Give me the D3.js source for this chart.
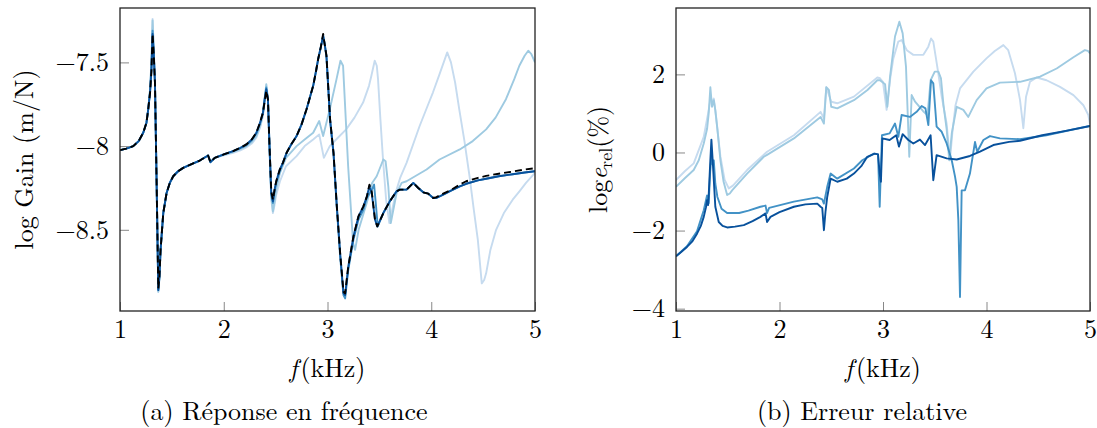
<!DOCTYPE html>
<html><head><meta charset="utf-8">
<script src="https://cdn.jsdelivr.net/npm/d3@7"></script>
<style>
body{margin:0;background:#fff}
</style>
</head><body><svg id="c" width="1097" height="428"></svg>
<script>
// ---------- data ----------
const freqTicks = [1, 2, 3, 4, 5];
const gainTicks = [-8.5, -8, -7.5];
const errTicks = [-4, -2, 0, 2];
const seriesColors = ["#c6dbef", "#9ecae1", "#4292c6", "#08519c"];

// reference response (black dashed)
const refGain = [[1.0,-8.024],[1.06,-8.015],[1.128,-8.0],[1.18,-7.97],[1.224,-7.92],[1.255,-7.86],[1.272,-7.78],[1.29,-7.68],[1.303,-7.55],[1.314,-7.33],[1.325,-7.45],[1.337,-7.62],[1.353,-8.22],[1.369,-8.85],[1.38,-8.78],[1.391,-8.62],[1.417,-8.40],[1.449,-8.28],[1.48,-8.22],[1.513,-8.18],[1.56,-8.15],[1.609,-8.13],[1.69,-8.107],[1.769,-8.086],[1.849,-8.056],[1.872,-8.096],[1.913,-8.07],[2.0,-8.05],[2.09,-8.03],[2.16,-8.01],[2.218,-7.99],[2.27,-7.96],[2.314,-7.92],[2.35,-7.86],[2.378,-7.80],[2.395,-7.73],[2.41,-7.67],[2.426,-7.72],[2.44,-7.98],[2.458,-8.27],[2.474,-8.32],[2.49,-8.26],[2.506,-8.21],[2.54,-8.14],[2.57,-8.10],[2.606,-8.04],[2.65,-7.99],[2.702,-7.94],[2.75,-7.87],[2.798,-7.78],[2.83,-7.71],[2.862,-7.64],[2.89,-7.55],[2.91,-7.48],[2.935,-7.41],[2.958,-7.33],[2.975,-7.40],[2.99,-7.46],[3.025,-7.84],[3.058,-8.04],[3.09,-8.36],[3.122,-8.64],[3.154,-8.87],[3.17,-8.88],[3.2,-8.72],[3.25,-8.54],[3.298,-8.42],[3.346,-8.36],[3.38,-8.30],[3.404,-8.23],[3.426,-8.27],[3.458,-8.44],[3.48,-8.48],[3.538,-8.40],[3.60,-8.33],[3.666,-8.27],[3.698,-8.26],[3.762,-8.26],[3.827,-8.22],[3.875,-8.25],[3.923,-8.276],[3.971,-8.284],[4.019,-8.31],[4.05,-8.305],[4.115,-8.284],[4.195,-8.26],[4.275,-8.23],[4.337,-8.21],[4.45,-8.19],[4.529,-8.178],[4.65,-8.165],[4.785,-8.152],[4.9,-8.14],[5.0,-8.132]];

// model 4 (darkest)
const gain4 = [[1.0,-8.024],[1.06,-8.015],[1.128,-8.0],[1.18,-7.97],[1.224,-7.92],[1.255,-7.86],[1.272,-7.78],[1.29,-7.68],[1.303,-7.55],[1.314,-7.33],[1.325,-7.45],[1.337,-7.62],[1.353,-8.22],[1.369,-8.86],[1.38,-8.78],[1.391,-8.62],[1.417,-8.40],[1.449,-8.28],[1.48,-8.22],[1.513,-8.18],[1.56,-8.15],[1.609,-8.13],[1.69,-8.107],[1.769,-8.086],[1.849,-8.056],[1.872,-8.096],[1.913,-8.07],[2.0,-8.05],[2.09,-8.03],[2.16,-8.01],[2.218,-7.99],[2.27,-7.96],[2.314,-7.92],[2.35,-7.86],[2.378,-7.80],[2.395,-7.72],[2.41,-7.66],[2.426,-7.72],[2.44,-7.98],[2.458,-8.28],[2.474,-8.33],[2.49,-8.26],[2.506,-8.21],[2.54,-8.14],[2.57,-8.10],[2.606,-8.04],[2.65,-7.99],[2.702,-7.94],[2.75,-7.87],[2.798,-7.78],[2.83,-7.71],[2.862,-7.64],[2.89,-7.55],[2.91,-7.48],[2.935,-7.41],[2.958,-7.34],[2.975,-7.40],[2.99,-7.46],[3.025,-7.84],[3.058,-8.04],[3.09,-8.36],[3.122,-8.64],[3.154,-8.88],[3.17,-8.89],[3.2,-8.72],[3.25,-8.54],[3.298,-8.42],[3.346,-8.36],[3.38,-8.30],[3.404,-8.24],[3.426,-8.28],[3.458,-8.44],[3.48,-8.48],[3.538,-8.40],[3.60,-8.33],[3.666,-8.27],[3.698,-8.26],[3.762,-8.26],[3.827,-8.22],[3.875,-8.25],[3.923,-8.276],[3.971,-8.284],[4.019,-8.31],[4.05,-8.31],[4.115,-8.29],[4.195,-8.265],[4.275,-8.24],[4.337,-8.225],[4.45,-8.205],[4.529,-8.195],[4.65,-8.18],[4.785,-8.168],[4.9,-8.158],[5.0,-8.15]];

// model 3
const gain3 = [[1.0,-8.024],[1.06,-8.015],[1.128,-8.0],[1.18,-7.97],[1.224,-7.92],[1.255,-7.86],[1.272,-7.78],[1.29,-7.67],[1.303,-7.53],[1.314,-7.31],[1.325,-7.44],[1.337,-7.62],[1.353,-8.22],[1.369,-8.86],[1.38,-8.78],[1.391,-8.62],[1.417,-8.40],[1.449,-8.28],[1.48,-8.22],[1.513,-8.18],[1.56,-8.15],[1.609,-8.13],[1.69,-8.107],[1.769,-8.086],[1.849,-8.056],[1.872,-8.096],[1.913,-8.07],[2.0,-8.05],[2.09,-8.03],[2.16,-8.012],[2.218,-7.995],[2.27,-7.965],[2.314,-7.925],[2.35,-7.865],[2.378,-7.80],[2.395,-7.71],[2.41,-7.65],[2.426,-7.72],[2.44,-7.98],[2.458,-8.29],[2.474,-8.34],[2.49,-8.27],[2.506,-8.22],[2.54,-8.15],[2.57,-8.10],[2.606,-8.04],[2.65,-7.99],[2.702,-7.94],[2.75,-7.87],[2.798,-7.78],[2.83,-7.71],[2.862,-7.64],[2.89,-7.55],[2.91,-7.48],[2.935,-7.41],[2.958,-7.34],[2.975,-7.40],[2.99,-7.47],[3.025,-7.85],[3.058,-8.05],[3.09,-8.37],[3.122,-8.66],[3.154,-8.89],[3.17,-8.91],[3.2,-8.74],[3.25,-8.56],[3.298,-8.44],[3.346,-8.38],[3.378,-8.31],[3.42,-8.27],[3.449,-8.23],[3.468,-8.36],[3.484,-8.48],[3.538,-8.40],[3.60,-8.33],[3.666,-8.27],[3.698,-8.26],[3.762,-8.26],[3.827,-8.22],[3.875,-8.25],[3.923,-8.276],[3.971,-8.284],[4.019,-8.31],[4.05,-8.31],[4.115,-8.29],[4.195,-8.265],[4.275,-8.24],[4.337,-8.225],[4.45,-8.205],[4.529,-8.195],[4.65,-8.18],[4.785,-8.168],[4.9,-8.158],[5.0,-8.15]];

// model 2
const gain2 = [[1.0,-8.024],[1.06,-8.015],[1.128,-8.0],[1.18,-7.97],[1.224,-7.92],[1.255,-7.86],[1.272,-7.78],[1.29,-7.66],[1.303,-7.50],[1.314,-7.25],[1.325,-7.42],[1.337,-7.62],[1.353,-8.22],[1.369,-8.87],[1.38,-8.79],[1.391,-8.62],[1.417,-8.40],[1.449,-8.28],[1.48,-8.22],[1.513,-8.18],[1.56,-8.15],[1.609,-8.13],[1.69,-8.107],[1.769,-8.086],[1.849,-8.056],[1.872,-8.096],[1.913,-8.07],[2.0,-8.052],[2.09,-8.035],[2.16,-8.018],[2.218,-8.0],[2.27,-7.975],[2.314,-7.94],[2.35,-7.88],[2.378,-7.81],[2.395,-7.72],[2.41,-7.63],[2.426,-7.72],[2.44,-8.0],[2.458,-8.30],[2.474,-8.39],[2.49,-8.33],[2.506,-8.26],[2.542,-8.16],[2.60,-8.07],[2.702,-8.0],[2.78,-7.96],[2.862,-7.92],[2.92,-7.85],[2.958,-7.94],[3.022,-7.78],[3.087,-7.60],[3.125,-7.49],[3.15,-7.52],[3.199,-8.12],[3.247,-8.58],[3.266,-8.62],[3.30,-8.50],[3.378,-8.34],[3.43,-8.22],[3.474,-8.18],[3.538,-8.08],[3.56,-8.09],[3.586,-8.24],[3.61,-8.46],[3.666,-8.28],[3.715,-8.22],[3.762,-8.21],[3.955,-8.14],[4.08,-8.08],[4.275,-8.02],[4.40,-7.97],[4.529,-7.90],[4.62,-7.83],[4.72,-7.72],[4.80,-7.60],[4.849,-7.52],[4.90,-7.46],[4.935,-7.43],[4.965,-7.45],[5.0,-7.50]];

// model 1 (lightest)
const gain1 = [[1.0,-8.024],[1.06,-8.015],[1.128,-8.0],[1.18,-7.97],[1.224,-7.92],[1.255,-7.86],[1.272,-7.78],[1.29,-7.66],[1.303,-7.50],[1.314,-7.24],[1.325,-7.42],[1.337,-7.62],[1.353,-8.22],[1.369,-8.87],[1.38,-8.79],[1.391,-8.62],[1.417,-8.40],[1.449,-8.28],[1.48,-8.22],[1.513,-8.18],[1.56,-8.15],[1.609,-8.13],[1.69,-8.107],[1.769,-8.086],[1.849,-8.056],[1.872,-8.096],[1.913,-8.07],[2.0,-8.055],[2.09,-8.04],[2.16,-8.025],[2.218,-8.008],[2.27,-7.985],[2.314,-7.95],[2.35,-7.89],[2.378,-7.82],[2.395,-7.73],[2.41,-7.64],[2.426,-7.73],[2.44,-8.02],[2.458,-8.32],[2.474,-8.40],[2.49,-8.35],[2.506,-8.29],[2.542,-8.21],[2.60,-8.12],[2.702,-8.06],[2.78,-8.0],[2.862,-7.96],[2.92,-7.93],[2.965,-8.07],[3.022,-8.0],[3.10,-7.95],[3.18,-7.90],[3.26,-7.83],[3.343,-7.74],[3.40,-7.64],[3.423,-7.58],[3.455,-7.49],[3.475,-7.52],[3.487,-7.60],[3.51,-7.84],[3.535,-8.08],[3.565,-8.32],[3.596,-8.46],[3.63,-8.36],[3.666,-8.26],[3.70,-8.19],[3.762,-8.10],[3.888,-7.88],[3.971,-7.75],[4.016,-7.68],[4.08,-7.57],[4.12,-7.50],[4.154,-7.44],[4.19,-7.50],[4.23,-7.62],[4.27,-7.78],[4.32,-7.97],[4.369,-8.18],[4.41,-8.38],[4.449,-8.56],[4.487,-8.82],[4.51,-8.80],[4.529,-8.76],[4.57,-8.62],[4.625,-8.50],[4.70,-8.40],[4.785,-8.32],[4.85,-8.27],[4.913,-8.22],[5.0,-8.16]];

// relative errors (log %)
const err1 = [[1.0,-0.71],[1.085,-0.48],[1.171,-0.28],[1.268,0.40],[1.31,1.0],[1.332,1.34],[1.348,1.3],[1.365,1.38],[1.38,1.08],[1.429,-0.1],[1.47,-0.7],[1.51,-0.92],[1.55,-0.85],[1.687,-0.45],[1.88,0.02],[2.139,0.44],[2.397,1.04],[2.429,0.87],[2.452,1.67],[2.50,1.30],[2.558,1.26],[2.719,1.43],[2.945,1.92],[2.971,1.90],[3.0,1.80],[3.035,1.09],[3.07,1.90],[3.10,2.41],[3.148,2.84],[3.18,2.88],[3.23,2.62],[3.293,2.50],[3.39,2.50],[3.438,2.71],[3.464,2.92],[3.486,2.84],[3.53,2.10],[3.567,1.43],[3.615,0.74],[3.647,-0.2],[3.67,0.5],[3.70,1.2],[3.744,1.64],[3.873,2.07],[4.0,2.41],[4.08,2.60],[4.163,2.75],[4.21,2.62],[4.275,2.03],[4.324,1.34],[4.356,0.62],[4.382,1.43],[4.42,1.81],[4.485,1.92],[4.58,1.85],[4.71,1.68],[4.84,1.47],[4.936,1.21],[4.984,0.96],[5.0,0.72]];
const err2 = [[1.0,-0.88],[1.085,-0.66],[1.171,-0.45],[1.22,-0.2],[1.268,0.23],[1.30,0.6],[1.316,1.0],[1.332,1.67],[1.348,1.17],[1.365,1.34],[1.38,1.08],[1.40,0.6],[1.429,-0.2],[1.46,-0.75],[1.494,-1.09],[1.52,-1.05],[1.542,-0.97],[1.687,-0.54],[1.848,-0.11],[1.88,-0.06],[2.139,0.36],[2.397,0.91],[2.429,0.74],[2.452,1.67],[2.477,1.60],[2.50,1.17],[2.558,1.13],[2.719,1.34],[2.85,1.60],[2.945,1.85],[2.971,1.85],[3.02,1.75],[3.042,1.17],[3.068,1.94],[3.116,2.97],[3.158,3.35],[3.19,3.05],[3.222,2.20],[3.254,-0.11],[3.277,1.47],[3.31,1.30],[3.39,1.05],[3.43,0.96],[3.46,1.85],[3.50,2.07],[3.535,2.07],[3.56,1.90],[3.585,1.20],[3.615,0.60],[3.64,-0.2],[3.665,0.5],[3.712,1.17],[3.776,1.09],[3.824,0.91],[3.905,1.34],[4.0,1.64],[4.13,1.79],[4.324,1.81],[4.517,1.94],[4.678,2.15],[4.84,2.44],[4.95,2.62],[4.98,2.60],[5.0,2.54]];
const err3 = [[1.0,-2.66],[1.106,-2.40],[1.203,-2.02],[1.268,-1.48],[1.30,-1.10],[1.316,-1.30],[1.33,-0.50],[1.342,-0.10],[1.352,-0.30],[1.365,-0.20],[1.38,-0.80],[1.40,-1.14],[1.44,-1.44],[1.494,-1.55],[1.61,-1.55],[1.70,-1.49],[1.816,-1.39],[1.865,-1.36],[1.88,-1.55],[1.90,-1.42],[2.139,-1.26],[2.365,-1.15],[2.413,-1.20],[2.429,-1.31],[2.461,-0.88],[2.494,-0.54],[2.558,-0.67],[2.719,-0.41],[2.80,-0.20],[2.912,-0.03],[2.952,-0.05],[2.968,-1.39],[2.99,0.44],[3.064,0.49],[3.116,0.74],[3.148,0.40],[3.18,0.96],[3.26,0.91],[3.325,1.04],[3.373,1.19],[3.41,1.13],[3.438,0.70],[3.464,1.85],[3.486,1.77],[3.518,0.66],[3.567,0.53],[3.615,0.23],[3.664,-0.2],[3.696,-0.62],[3.712,-0.88],[3.728,-1.74],[3.744,-3.70],[3.76,-0.97],[3.792,-0.97],[3.84,-0.54],[3.889,0.27],[3.91,0.02],[3.97,0.32],[4.034,0.42],[4.13,0.36],[4.324,0.34],[4.58,0.44],[4.80,0.57],[5.0,0.68]];
const err4 = [[1.0,-2.66],[1.05,-2.55],[1.106,-2.42],[1.16,-2.27],[1.203,-2.08],[1.24,-1.88],[1.268,-1.65],[1.29,-1.40],[1.30,-1.22],[1.31,-1.35],[1.316,-1.10],[1.33,-0.30],[1.342,0.33],[1.358,-0.37],[1.38,-1.39],[1.413,-1.78],[1.45,-1.88],[1.494,-1.92],[1.57,-1.90],[1.655,-1.86],[1.74,-1.76],[1.816,-1.65],[1.865,-1.56],[1.88,-1.78],[1.913,-1.65],[2.0,-1.53],[2.139,-1.39],[2.25,-1.33],[2.365,-1.31],[2.397,-1.39],[2.413,-1.42],[2.429,-1.99],[2.445,-1.50],[2.461,-1.14],[2.494,-0.67],[2.558,-0.75],[2.65,-0.67],[2.719,-0.54],[2.79,-0.35],[2.848,-0.11],[2.92,-0.03],[2.952,-0.05],[2.968,-0.54],[2.98,-0.75],[2.994,0.36],[3.064,0.32],[3.128,0.44],[3.154,0.15],[3.19,0.47],[3.245,0.32],[3.293,0.23],[3.357,0.33],[3.406,0.19],[3.46,0.44],[3.486,-0.71],[3.518,-0.07],[3.615,-0.15],[3.712,-0.18],[3.84,-0.09],[3.937,0.02],[4.066,0.19],[4.218,0.27],[4.324,0.30],[4.538,0.44],[4.78,0.56],[5.0,0.68]];

// ---------- drawing ----------
const FONT = '"Latin Modern Roman", "Liberation Serif", serif';
const svg = d3.select("#c");
const fmt = v => (v < 0 ? "\u2212" : "") + Math.abs(v);

function panel(o) {
  const x = d3.scaleLinear().domain([1, 5]).range([o.left, o.right]);
  const y = d3.scaleLinear().domain(o.yDomain).range([o.bottom, o.top]);
  const g = svg.append("g");
  const line = d3.line().x(d => x(d[0])).y(d => y(d[1]));
  const clipId = "clip" + o.id;
  g.append("clipPath").attr("id", clipId).append("rect")
    .attr("x", o.left).attr("y", o.top).attr("width", o.right - o.left).attr("height", o.bottom - o.top);
  const lines = g.append("g").attr("clip-path", `url(#${clipId})`);
  o.series.forEach(s => {
    lines.append("path").datum(s.data).attr("d", line)
      .attr("fill", "none").attr("stroke", s.color).attr("stroke-width", 1.9)
      .attr("stroke-linejoin", "round")
      .attr("stroke-dasharray", s.dash || null);
  });
  // ticks (inside)
  const xa = d3.axisBottom(x).tickValues(freqTicks).tickSize(-9).tickFormat(d => d);
  const xg = g.append("g").attr("transform", `translate(0,${o.bottom})`).call(xa);
  xg.select(".domain").remove();
  xg.selectAll("line").attr("stroke", "#888").attr("stroke-width", 1);
  xg.selectAll("text").attr("font-size", 26).attr("dy", null).attr("y", 27).attr("fill", "#000");
  const ya = d3.axisLeft(y).tickValues(o.yTicks).tickSize(-9).tickFormat(fmt);
  const yg = g.append("g").attr("transform", `translate(${o.left},0)`).call(ya);
  yg.select(".domain").remove();
  yg.selectAll("line").attr("stroke", "#888").attr("stroke-width", 1);
  yg.selectAll("text").attr("font-size", 26).attr("x", -11).attr("dy", "0.32em").attr("fill", "#000");
  // frame
  g.append("rect").attr("x", o.left).attr("y", o.top)
    .attr("width", o.right - o.left).attr("height", o.bottom - o.top)
    .attr("fill", "none").attr("stroke", "#222").attr("stroke-width", 1.3);
  // x label
  const xl = g.append("text").attr("x", (o.left + o.right) / 2).attr("y", 377)
    .attr("text-anchor", "middle").attr("font-size", 26);
  xl.append("tspan").attr("font-style", "italic").text("f");
  xl.append("tspan").attr("dx", 3).text("(kHz)");
  // caption
  g.append("text").attr("x", o.captionX).attr("y", 420).attr("text-anchor", "middle")
    .attr("font-size", 26).text(o.caption);
  // y label
  const yl = g.append("text").attr("transform", `translate(${o.yLabelX},${(o.top + o.bottom) / 2}) rotate(-90)`)
    .attr("text-anchor", "middle").attr("font-size", 26);
  o.yLabel(yl);
}

panel({
  id: "a", left: 120, right: 535, top: 8, bottom: 311,
  yDomain: [-8.985, -7.175], yTicks: gainTicks,
  series: [
    {data: gain1, color: seriesColors[0]},
    {data: gain2, color: seriesColors[1]},
    {data: gain3, color: seriesColors[2]},
    {data: gain4, color: seriesColors[3]},
    {data: refGain, color: "#000", dash: "7,4"}
  ],
  caption: "(a) R\u00e9ponse en fr\u00e9quence", captionX: 284,
  yLabelX: 33,
  yLabel: t => t.text("log Gain (m/N)")
});

panel({
  id: "b", left: 676, right: 1090, top: 8, bottom: 311,
  yDomain: [-4.06, 3.7], yTicks: errTicks,
  series: [
    {data: err1, color: seriesColors[0]},
    {data: err2, color: seriesColors[1]},
    {data: err3, color: seriesColors[2]},
    {data: err4, color: seriesColors[3]}
  ],
  caption: "(b) Erreur relative", captionX: 862,
  yLabelX: 607,
  yLabel: t => {
    t.append("tspan").text("log");
    t.append("tspan").attr("font-style", "italic").text("e");
    t.append("tspan").attr("font-size", 18).attr("dy", 5).text("rel");
    t.append("tspan").attr("dy", -5).text("(%)");
  }
});

svg.selectAll("text").style("font-family", FONT);
</script>
</body></html>
